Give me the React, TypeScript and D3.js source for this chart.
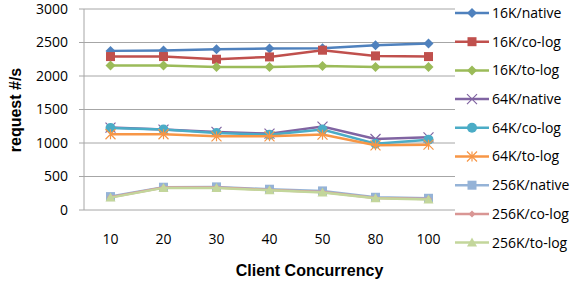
import React, { useRef, useEffect } from 'react';
import * as d3 from 'd3';

const categories = ['10', '20', '30', '40', '50', '80', '100'];
const yTicks = [0, 500, 1000, 1500, 2000, 2500, 3000];

const seriesNames = [
  '16K/native', '16K/co-log', '16K/to-log',
  '64K/native', '64K/co-log', '64K/to-log',
  '256K/native', '256K/co-log', '256K/to-log',
];
const k16Native = [2375, 2380, 2400, 2410, 2415, 2460, 2485];
const k16CoLog = [2290, 2290, 2250, 2285, 2385, 2300, 2290];
const k16ToLog = [2155, 2155, 2135, 2135, 2150, 2135, 2135];
const k64Native = [1230, 1200, 1165, 1140, 1245, 1060, 1085];
const k64CoLog = [1225, 1200, 1150, 1125, 1200, 990, 1050];
const k64ToLog = [1130, 1130, 1100, 1100, 1125, 965, 975];
const k256Native = [200, 340, 345, 310, 285, 190, 175];
const k256CoLog = [190, 335, 335, 300, 270, 180, 165];
const k256ToLog = [185, 330, 330, 295, 260, 175, 155];

const colors = ['#4F81BD', '#C0504D', '#9BBB59', '#8064A2', '#4BACC6', '#F79646', '#95B3D7', '#D99694', '#C3D69B'];
const markers = ['diamond', 'square', 'diamond', 'cross', 'circle', 'asterisk', 'square', 'diamond', 'triangle'];

const allValues = [k16Native, k16CoLog, k16ToLog, k64Native, k64CoLog, k64ToLog, k256Native, k256CoLog, k256ToLog];

function drawMarker(g, type, x, y, color, size) {
  const r = size / 2;
  if (type === 'diamond') {
    g.append('path')
      .attr('d', `M${x},${y - r}L${x + r},${y}L${x},${y + r}L${x - r},${y}Z`)
      .attr('fill', color);
  } else if (type === 'square') {
    g.append('rect').attr('x', x - r + 0.5).attr('y', y - r + 0.5)
      .attr('width', size - 1).attr('height', size - 1).attr('fill', color);
  } else if (type === 'circle') {
    g.append('circle').attr('cx', x).attr('cy', y).attr('r', r).attr('fill', color);
  } else if (type === 'triangle') {
    g.append('path')
      .attr('d', `M${x},${y - r}L${x + r},${y + r * 0.8}L${x - r},${y + r * 0.8}Z`)
      .attr('fill', color);
  } else if (type === 'cross') {
    g.append('path')
      .attr('d', `M${x - r},${y - r}L${x + r},${y + r}M${x - r},${y + r}L${x + r},${y - r}`)
      .attr('fill', 'none').attr('stroke', color).attr('stroke-width', 1.2);
  } else if (type === 'asterisk') {
    g.append('path')
      .attr('d', `M${x - r},${y - r}L${x + r},${y + r}M${x - r},${y + r}L${x + r},${y - r}M${x},${y - r}L${x},${y + r}`)
      .attr('fill', 'none').attr('stroke', color).attr('stroke-width', 1.2);
  }
}

export default function App() {
  const svgRef = useRef(null);

  useEffect(() => {
    const width = 573;
    const height = 285;
    const margin = { top: 9, left: 84, right: 118, bottom: 75 };
    const innerW = width - margin.left - margin.right;
    const innerH = height - margin.top - margin.bottom;

    const svg = d3.select(svgRef.current);
    svg.selectAll('*').remove();

    const g = svg.append('g').attr('transform', `translate(${margin.left},${margin.top})`);

    const x = d3.scalePoint().domain(categories).range([0, innerW]).padding(0.5);
    const y = d3.scaleLinear().domain([0, 3000]).range([innerH, 0]);

    // gridlines
    g.selectAll('.grid').data(yTicks).join('line')
      .attr('x1', -5).attr('x2', innerW)
      .attr('y1', (d) => y(d)).attr('y2', (d) => y(d))
      .attr('stroke', '#A6A6A6').attr('stroke-width', 1);

    g.append('line').attr('x1', 0).attr('x2', 0).attr('y1', 0).attr('y2', innerH)
      .attr('stroke', '#A6A6A6');

    const font = '"Open Sans", sans-serif';
    g.selectAll('.ylab').data(yTicks).join('text')
      .attr('x', -16).attr('y', (d) => y(d)).attr('dy', '0.35em')
      .attr('text-anchor', 'end').attr('font-family', font).attr('font-size', 14)
      .attr('fill', '#000').text((d) => d);

    g.selectAll('.xlab').data(categories).join('text')
      .attr('x', (d) => x(d)).attr('y', innerH + 29).attr('dy', '0.35em')
      .attr('text-anchor', 'middle').attr('font-family', font).attr('font-size', 14)
      .attr('fill', '#000').text((d) => d);

    // series
    const line = d3.line().x((d, i) => x(categories[i])).y((d) => y(d));
    allValues.forEach((vals, si) => {
      g.append('path').datum(vals).attr('d', line)
        .attr('fill', 'none').attr('stroke', colors[si]).attr('stroke-width', 2.5);
      vals.forEach((v, i) => {
        drawMarker(g, markers[si], x(categories[i]), y(v), colors[si], si === 7 ? 7 : 10);
      });
    });

    // axis titles
    svg.append('text').attr('x', margin.left + innerW / 2 + 40).attr('y', 270).attr('dy', '0.35em')
      .attr('text-anchor', 'middle').attr('font-family', 'Arial, "Liberation Sans", sans-serif')
      .attr('font-weight', 'bold').attr('font-size', 16).text('Client Concurrency');
    svg.append('text').attr('transform', 'translate(15,110) rotate(-90)').attr('dy', '0.35em')
      .attr('text-anchor', 'middle').attr('font-family', 'Arial, "Liberation Sans", sans-serif')
      .attr('font-weight', 'bold').attr('font-size', 16).text('request #/s');

    // legend
    const lg = svg.append('g').attr('transform', 'translate(455,13)');
    seriesNames.forEach((name, i) => {
      const yy = i * 28.7;
      lg.append('line').attr('x1', 0).attr('x2', 34).attr('y1', yy).attr('y2', yy)
        .attr('stroke', colors[i]).attr('stroke-width', 2.5);
      drawMarker(lg, markers[i], 17, yy, colors[i], i === 7 ? 7 : 10);
      lg.append('text').attr('x', 37).attr('y', yy).attr('dy', '0.35em')
        .attr('font-family', font).attr('font-size', 14).text(name);
    });
  }, []);

  return (
    <svg ref={svgRef} width={573} height={285} style={{ position: 'absolute', left: 0, top: 0, background: '#fff' }} />
  );
}
